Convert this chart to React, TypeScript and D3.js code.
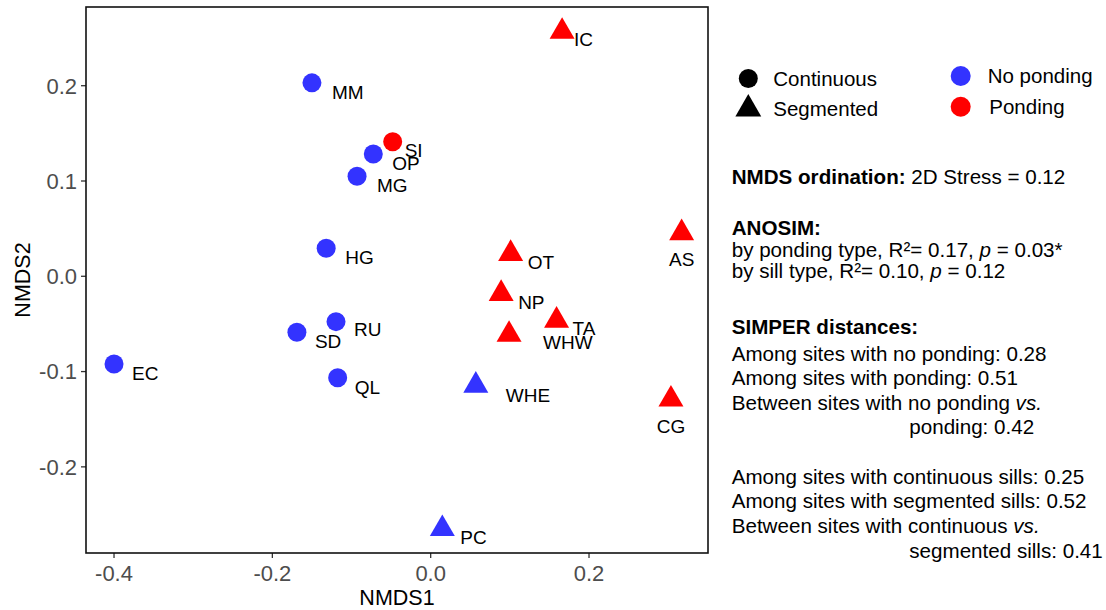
import React from "react";
import * as d3 from "d3";

// ---- Data ----
const sites = ["MM", "OP", "MG", "HG", "SI", "RU", "SD", "EC", "QL", "IC", "AS", "OT", "NP", "TA", "WHW", "WHE", "CG", "PC"];
const nmds1 = [-0.150, -0.0725, -0.093, -0.132, -0.048, -0.1196, -0.169, -0.400, -0.1175, 0.166, 0.317, 0.101, 0.089, 0.159, 0.099, 0.057, 0.3035, 0.0147];
const nmds2 = [0.203, 0.1284, 0.1049, 0.0294, 0.1412, -0.0476, -0.0588, -0.092, -0.1064, 0.2568, 0.0455, 0.0237, -0.0183, -0.0464, -0.0612, -0.1146, -0.1291, -0.2651];
const sillType = ["Continuous", "Continuous", "Continuous", "Continuous", "Continuous", "Continuous", "Continuous", "Continuous", "Continuous",
  "Segmented", "Segmented", "Segmented", "Segmented", "Segmented", "Segmented", "Segmented", "Segmented", "Segmented"];
const pondingType = ["No ponding", "No ponding", "No ponding", "No ponding", "Ponding", "No ponding", "No ponding", "No ponding", "No ponding",
  "Ponding", "Ponding", "Ponding", "Ponding", "Ponding", "Ponding", "No ponding", "Ponding", "No ponding"];

const xTicks = [-0.4, -0.2, 0.0, 0.2];
const yTicks = [-0.2, -0.1, 0.0, 0.1, 0.2];
const sillLevels = ["Continuous", "Segmented"];
const pondLevels = ["No ponding", "Ponding"];

// ---- Styles / layout ----
const W = 1106, H = 610;
const panel = { left: 86, right: 708, top: 7, bottom: 553 };
const xDomain = [-0.4354, 0.3503];
const yDomain = [-0.2904, 0.2826];
const colorMap: Record<string, string> = { "No ponding": "#3333FF", "Ponding": "#FF0000" };
const FONT = "'Liberation Sans', Arial, Helvetica, sans-serif";

// label nudges (px): [dx, dy, anchor]
const labelNudge: Record<string, [number, number, string]> = {
  MM: [20, 9, "start"], OP: [19, 9, "start"], MG: [20, 9, "start"], HG: [19, 9, "start"],
  SI: [12, 8, "start"], RU: [18, 8, "start"], SD: [18, 9, "start"], EC: [18, 9, "start"],
  QL: [17, 9, "start"], IC: [12, 8, "start"], AS: [0, 26, "middle"], OT: [17, 8, "start"],
  NP: [17, 8, "start"], TA: [16, 8, "start"], WHW: [34, 8, "start"], WHE: [30, 10, "start"],
  CG: [0, 27, "middle"], PC: [18, 8, "start"],
};

type Seg = { t: string; b?: boolean; i?: boolean };
const annotations: { x: number; y: number; segs: Seg[] }[] = [
  { x: 731.7, y: 184, segs: [{ t: "NMDS ordination:", b: true }, { t: " 2D Stress = 0.12" }] },
  { x: 731.7, y: 235, segs: [{ t: "ANOSIM:", b: true }] },
  { x: 731.7, y: 256.5, segs: [{ t: "by ponding type, R\u00B2= 0.17, " }, { t: "p", i: true }, { t: " = 0.03*" }] },
  { x: 731.7, y: 278, segs: [{ t: "by sill type, R\u00B2= 0.10, " }, { t: "p", i: true }, { t: " = 0.12" }] },
  { x: 731.7, y: 334, segs: [{ t: "SIMPER distances:", b: true }] },
  { x: 731.7, y: 360.5, segs: [{ t: "Among sites with no ponding: 0.28" }] },
  { x: 731.7, y: 385, segs: [{ t: "Among sites with ponding: 0.51" }] },
  { x: 731.7, y: 409.5, segs: [{ t: "Between sites with no ponding " }, { t: "vs.", i: true }] },
  { x: 909.3, y: 434, segs: [{ t: "ponding: 0.42" }] },
  { x: 731.7, y: 483.5, segs: [{ t: "Among sites with continuous sills: 0.25" }] },
  { x: 731.7, y: 508, segs: [{ t: "Among sites with segmented sills: 0.52" }] },
  { x: 731.7, y: 533, segs: [{ t: "Between sites with continuous " }, { t: "vs.", i: true }] },
  { x: 909.3, y: 557.5, segs: [{ t: "segmented sills: 0.41" }] },
];

const fmt = (v: number) => v.toFixed(1);

export default function App() {
  const x = d3.scaleLinear().domain(xDomain).range([panel.left, panel.right]);
  const y = d3.scaleLinear().domain(yDomain).range([panel.bottom, panel.top]);
  const shapeSize: Record<string, number> = { Continuous: Math.PI * 9.5 * 9.5, Segmented: 270 };
  const symbolFor = (s: string) => (s === "Continuous" ? d3.symbolCircle : d3.symbolTriangle);
  const symPath = (s: string, size?: number) => d3.symbol().type(symbolFor(s)).size(size ?? shapeSize[s])() as string;

  const points = sites.map((name, i) => ({
    name, x: nmds1[i], y: nmds2[i], sill: sillType[i], pond: pondingType[i],
  }));

  return (
    <svg width={W} height={H} style={{ position: "absolute", left: 0, top: 0, background: "#fff" }} fontFamily={FONT}>
      <rect x={0} y={0} width={W} height={H} fill="#fff" />
      {/* ticks */}
      {yTicks.map((t) => (
        <g key={"y" + t}>
          <line x1={panel.left - 5} x2={panel.left} y1={y(t)} y2={y(t)} stroke="#333" strokeWidth={1.3} />
          <text x={panel.left - 9} y={y(t)} dy="0.36em" textAnchor="end" fontSize={22} fill="#4D4D4D">{fmt(t)}</text>
        </g>
      ))}
      {xTicks.map((t) => (
        <g key={"x" + t}>
          <line x1={x(t)} x2={x(t)} y1={panel.bottom} y2={panel.bottom + 5} stroke="#333" strokeWidth={1.3} />
          <text x={x(t)} y={panel.bottom + 28} textAnchor="middle" fontSize={22} fill="#4D4D4D">{fmt(t)}</text>
        </g>
      ))}
      {/* axis titles */}
      <text x={(panel.left + panel.right) / 2} y={605} textAnchor="middle" fontSize={21.5} fill="#000">NMDS1</text>
      <text transform={`translate(30,${(panel.top + panel.bottom) / 2}) rotate(-90)`} textAnchor="middle" fontSize={21.5} fill="#000">NMDS2</text>

      {/* points */}
      {points.map((p) => (
        <path key={p.name} d={symPath(p.sill)} transform={`translate(${x(p.x)},${y(p.y)})`} fill={colorMap[p.pond]} />
      ))}
      {/* labels */}
      {points.map((p) => {
        const [dx, dy, anchor] = labelNudge[p.name];
        return (
          <text key={"l" + p.name} x={x(p.x) + dx} y={y(p.y) + dy} dy="0.36em" textAnchor={anchor as any} fontSize={19} fill="#000">
            {p.name}
          </text>
        );
      })}
      {/* panel border */}
      <rect x={panel.left} y={panel.top} width={panel.right - panel.left} height={panel.bottom - panel.top} fill="none" stroke="#111" strokeWidth={1.6} />

      {/* legend: shape */}
      {sillLevels.map((s, i) => (
        <g key={"ls" + s} transform={`translate(748.3,${78.5 + i * 30.5})`}>
          <path d={symPath(s, s === "Continuous" ? Math.PI * 9.5 * 9.5 : 290)} fill="#000" />
          <text x={25} y={0} dy="0.36em" fontSize={20.5} fill="#000">{s}</text>
        </g>
      ))}
      {/* legend: colour */}
      {pondLevels.map((s, i) => (
        <g key={"lc" + s} transform={`translate(960.7,${76 + i * 30.7})`}>
          <circle r={10} fill={colorMap[s]} />
          <text x={i === 0 ? 27 : 28.6} y={0} dy="0.36em" fontSize={20.5} fill="#000">{s}</text>
        </g>
      ))}

      {/* annotations */}
      {annotations.map((a, k) => (
        <text key={"a" + k} x={a.x} y={a.y} fontSize={20.6} fill="#000">
          {a.segs.map((s, j) => (
            <tspan key={j} fontWeight={s.b ? "bold" : "normal"} fontStyle={s.i ? "italic" : "normal"}>{s.t}</tspan>
          ))}
        </text>
      ))}
    </svg>
  );
}
